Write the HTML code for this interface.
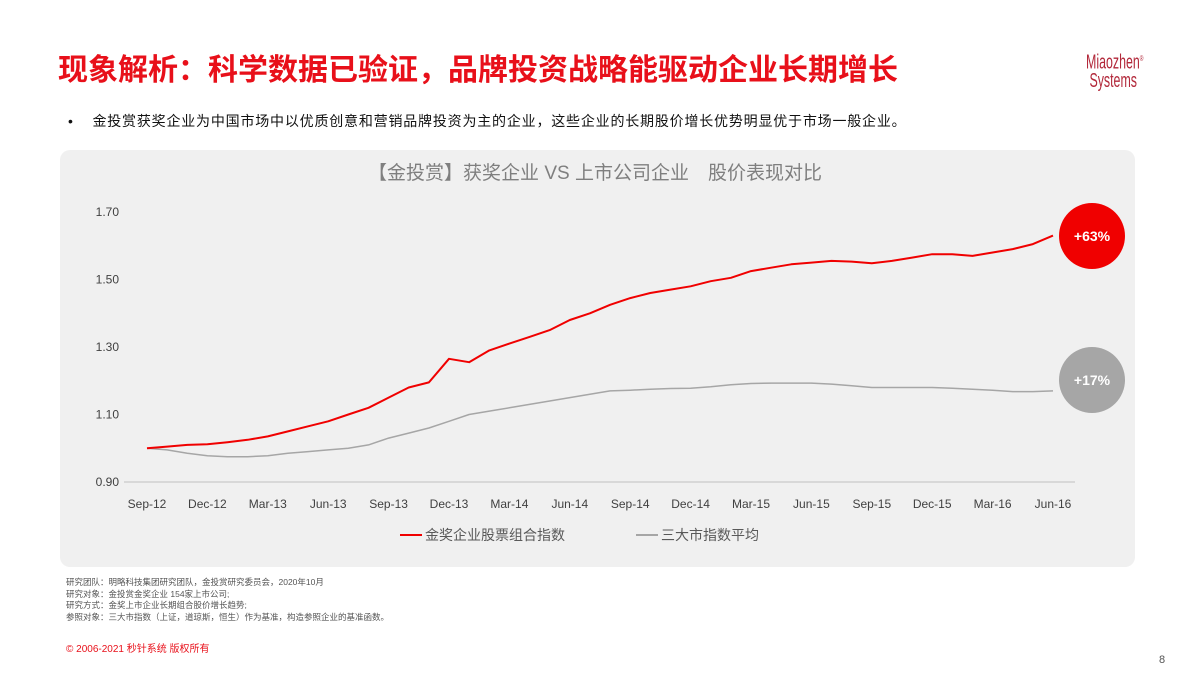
<!DOCTYPE html>
<html><head><meta charset="utf-8"><style>
body{margin:0;width:1200px;height:675px;background:#fff;overflow:hidden;font-family:"Liberation Sans","Noto Sans CJK SC",sans-serif;position:relative}
.a{position:absolute;white-space:nowrap}
</style></head><body>
<div class="a" style="left:58px;top:45px;font-size:30px;font-weight:bold;color:#e8101a">现象解析：科学数据已验证，品牌投资战略能驱动企业长期增长</div>
<div class="a" style="left:1086px;top:50px;font-size:20px;line-height:18px;color:#b2283a;transform:scaleX(.62);transform-origin:left top">Miaozhen<sup style="font-size:8px">®</sup><br>&nbsp;Systems</div>
<div class="a" style="left:68px;top:111px;font-size:14px;letter-spacing:0.8px;color:#111">•&nbsp;&nbsp;&nbsp;&nbsp;金投赏获奖企业为中国市场中以优质创意和营销品牌投资为主的企业，这些企业的长期股价增长优势明显优于市场一般企业。</div>
<div class="a" style="left:60px;top:150px;width:1075px;height:417px;background:#f0f0f0;border-radius:10px"></div>
<svg class="a" style="left:0;top:0" width="1200" height="675" id="ch">
<text x="595" y="179" text-anchor="middle" font-size="19" fill="#7f7f7f">【金投赏】获奖企业 VS 上市公司企业　股价表现对比</text>
</svg>
<div class="a" style="left:66px;top:577px;font-size:8.5px;line-height:11.5px;color:#555">研究团队：明略科技集团研究团队，金投赏研究委员会，2020年10月<br>研究对象：金投赏金奖企业 154家上市公司;<br>研究方式：金奖上市企业长期组合股价增长趋势;<br>参照对象：三大市指数（上证，道琼斯，恒生）作为基准，构造参照企业的基准函数。</div>
<div class="a" style="left:66px;top:640px;font-size:10px;color:#e8101a">© 2006-2021 秒针系统 版权所有</div>
<div class="a" style="left:1159px;top:654px;font-size:11px;color:#555">8</div>
<script>
const xLabels=["Sep-12","Dec-12","Mar-13","Jun-13","Sep-13","Dec-13","Mar-14","Jun-14","Sep-14","Dec-14","Mar-15","Jun-15","Sep-15","Dec-15","Mar-16","Jun-16"];
const yTicks=[0.90,1.10,1.30,1.50,1.70];
const awardSeries=[1.00,1.005,1.01,1.012,1.018,1.025,1.035,1.05,1.065,1.08,1.10,1.12,1.15,1.18,1.195,1.265,1.255,1.29,1.31,1.33,1.35,1.38,1.40,1.425,1.445,1.46,1.47,1.48,1.495,1.505,1.525,1.535,1.545,1.55,1.555,1.553,1.548,1.555,1.565,1.575,1.575,1.57,1.58,1.59,1.605,1.63];
const marketSeries=[1.00,0.995,0.985,0.978,0.975,0.975,0.978,0.985,0.99,0.995,1.0,1.01,1.03,1.045,1.06,1.08,1.10,1.11,1.12,1.13,1.14,1.15,1.16,1.17,1.172,1.175,1.177,1.178,1.182,1.188,1.192,1.193,1.193,1.193,1.19,1.185,1.18,1.18,1.18,1.18,1.178,1.175,1.172,1.168,1.168,1.17];
const badges=["+63%","+17%"];
const NS="http://www.w3.org/2000/svg",svg=document.getElementById('ch');
const X=i=>147+i*(1053-147)/45, Y=v=>482-(v-0.9)*337.5;
function mk(t,a){const e=document.createElementNS(NS,t);for(const k in a)e.setAttribute(k,a[k]);svg.appendChild(e);return e;}
yTicks.forEach(v=>{const t=mk('text',{x:119,y:Y(v)+4,'text-anchor':'end','font-size':12,fill:'#404040'});t.textContent=v.toFixed(2);

});
const ax=mk('line',{x1:124,x2:1075,y1:482,y2:482,stroke:'#bfbfbf'});


xLabels.forEach((l,i)=>{const t=mk('text',{x:X(i*3),y:508,'text-anchor':'middle','font-size':12,fill:'#404040'});t.textContent=l;

});
function line(d,c,w,n){const p=mk('path',{d:d.map((v,i)=>(i?'L':'M')+X(i).toFixed(1)+','+Y(v).toFixed(1)).join(''),fill:'none',stroke:c,'stroke-width':w,'stroke-linejoin':'round'});

}
line(marketSeries,'#a6a6a6',1.5,'market-index-line');
line(awardSeries,'#f00000',2,'award-index-line');
function badge(cy,fill,txt,n){const g=mk('circle',{cx:1092,cy:cy,r:33,fill:fill});


const t=mk('text',{x:1092,y:cy+5,'text-anchor':'middle','font-size':14,'font-weight':'bold',fill:'#fff'});t.textContent=txt;}
badge(236,'#f00000',badges[0],'award-growth-badge');
badge(380,'#a6a6a6',badges[1],'market-growth-badge');
const l1=mk('line',{x1:400,x2:422,y1:535,y2:535,stroke:'#f00000','stroke-width':2});


const t1=mk('text',{x:425,y:540,'font-size':14,fill:'#595959'});t1.textContent='金奖企业股票组合指数';
const l2=mk('line',{x1:636,x2:658,y1:535,y2:535,stroke:'#a6a6a6','stroke-width':2});


const t2=mk('text',{x:661,y:540,'font-size':14,fill:'#595959'});t2.textContent='三大市指数平均';
</script>
</body></html>
